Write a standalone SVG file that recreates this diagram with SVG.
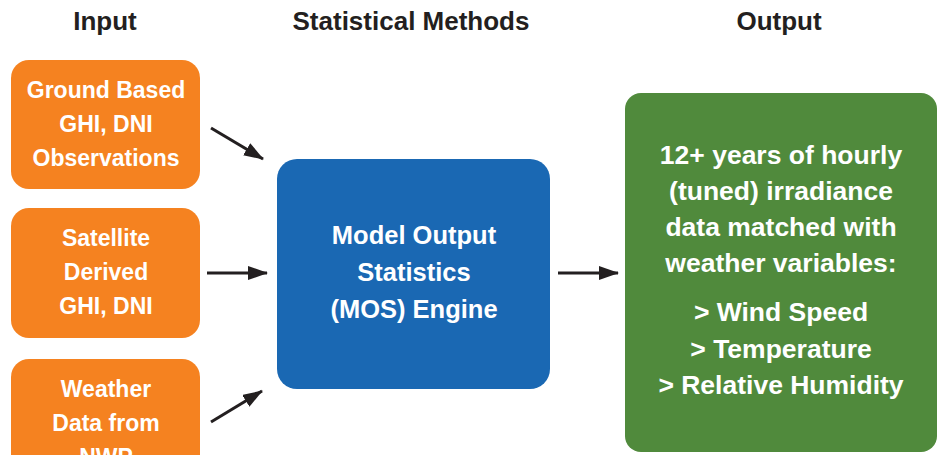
<svg xmlns="http://www.w3.org/2000/svg" width="944" height="455" viewBox="0 0 944 455">
<defs>
<marker id="ah" viewBox="0 0 20 14" refX="19" refY="7" markerWidth="20" markerHeight="14" markerUnits="userSpaceOnUse" orient="auto">
<path d="M0,0 L20,7 L0,14 z" fill="#231F20"/>
</marker>
<style>
.hdr{font-family:"Liberation Sans",Arial,sans-serif;font-weight:bold;font-size:26px;fill:#231F20;text-anchor:middle}
.lbl{font-family:"Liberation Sans",Arial,sans-serif;font-weight:bold;fill:#ffffff;text-anchor:middle}
.in{fill:#F58220}
.conn{stroke:#231F20;stroke-width:3;fill:none;marker-end:url(#ah)}
</style>
</defs>
<rect width="944" height="455" fill="#ffffff"/>
<g id="headers">
<text class="hdr" x="105" y="30">Input</text>
<text class="hdr" x="411" y="30">Statistical Methods</text>
<text class="hdr" x="779" y="30">Output</text>
</g>
<g id="ground">
<rect class="in" x="11" y="60" width="189" height="129" rx="18"/>
<text class="lbl" font-size="23" x="106" y="98">Ground Based</text>
<text class="lbl" font-size="23" x="106" y="132">GHI, DNI</text>
<text class="lbl" font-size="23" x="106" y="166">Observations</text>
</g>
<g id="satellite">
<rect class="in" x="11" y="208" width="189" height="130" rx="18"/>
<text class="lbl" font-size="23" x="106" y="246">Satellite</text>
<text class="lbl" font-size="23" x="106" y="280">Derived</text>
<text class="lbl" font-size="23" x="106" y="314">GHI, DNI</text>
</g>
<g id="weather">
<rect class="in" x="11" y="359" width="189" height="130" rx="18"/>
<text class="lbl" font-size="23" x="106" y="397">Weather</text>
<text class="lbl" font-size="23" x="106" y="431">Data from</text>
<text class="lbl" font-size="23" x="106" y="465">NWP</text>
</g>
<g id="mos">
<rect x="277" y="159" width="273" height="230" rx="20" fill="#1A68B3"/>
<text class="lbl" font-size="25.5" x="414" y="244">Model Output</text>
<text class="lbl" font-size="25.5" x="414" y="281">Statistics</text>
<text class="lbl" font-size="25.5" x="414" y="318">(MOS) Engine</text>
</g>
<g id="output">
<rect x="625" y="93" width="312" height="359" rx="16" fill="#508A3C"/>
<text class="lbl" font-size="26.5" x="781" y="164">12+ years of hourly</text>
<text class="lbl" font-size="26.5" x="781" y="200">(tuned) irradiance</text>
<text class="lbl" font-size="26.5" x="781" y="236">data matched with</text>
<text class="lbl" font-size="26.5" x="781" y="272">weather variables:</text>
<text class="lbl" font-size="26.5" x="781" y="321">&gt; Wind Speed</text>
<text class="lbl" font-size="26.5" x="781" y="358">&gt; Temperature</text>
<text class="lbl" font-size="26.5" x="781" y="394">&gt; Relative Humidity</text>
</g>
<g id="connectors">
<line class="conn" x1="211" y1="128" x2="263" y2="159"/>
<line class="conn" x1="207" y1="273" x2="267" y2="273"/>
<line class="conn" x1="211" y1="422" x2="262" y2="391"/>
<line class="conn" x1="558" y1="273" x2="618" y2="273"/>
</g>
</svg>
